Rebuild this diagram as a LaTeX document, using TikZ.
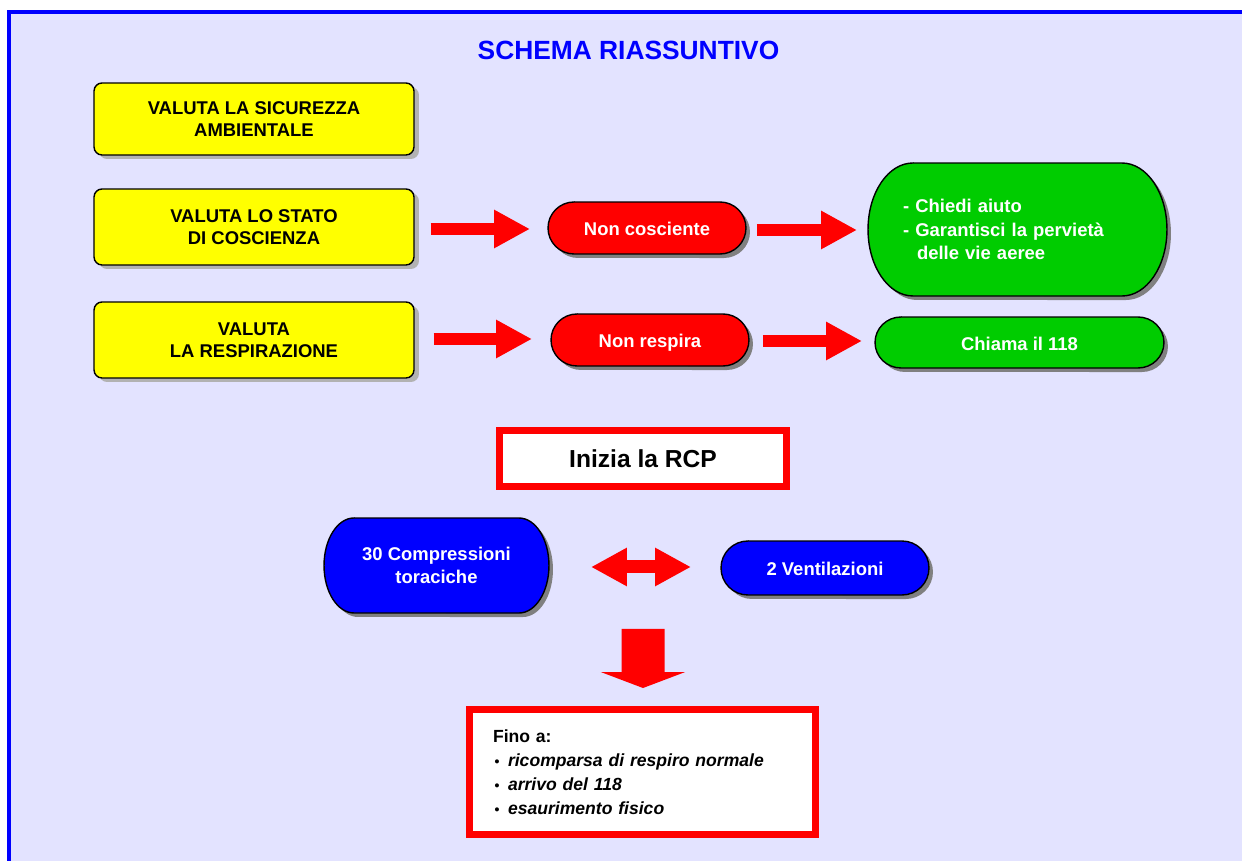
\documentclass[tikz,border=0pt]{standalone}
\usepackage{fontspec}
\setmainfont{Liberation Sans}
\usetikzlibrary{arrows.meta,calc,shadows,backgrounds}

\definecolor{pagelav}{RGB}{227,227,255}
\definecolor{frameblue}{RGB}{0,0,255}
\definecolor{boxyellow}{RGB}{255,255,0}
\definecolor{pillred}{RGB}{255,0,0}
\definecolor{pillgreen}{RGB}{0,204,0}
\definecolor{pillblue}{RGB}{0,0,255}
\definecolor{arrowred}{RGB}{255,0,0}

\tikzset{
  yellowbox/.style={draw=black, line width=0.8pt, fill=boxyellow, rounded corners=0.16cm,
    minimum width=6.4cm, align=center, font=\bfseries\fontsize{10.5}{12.5}\selectfont,
    drop shadow={shadow xshift=0.1cm, shadow yshift=-0.08cm, fill=black!30, opacity=1}},
  pilltext/.style={inner sep=0pt, outer sep=0pt, align=center, text=white,
    font=\bfseries\fontsize{10.5}{13}\selectfont},
  oneline/.style={text height=0.95em, text depth=0.06em},
  pilledge/.style={draw=black, line width=0.8pt},
  pillshadow/.style={fill=black!50},
  redframe/.style={draw=arrowred, line width=0.14cm, fill=white, inner sep=0pt},
  blockarrow/.style={draw=arrowred, line width=0.24cm, -{Triangle[width=0.72cm,length=0.72cm]}},
  twowayarrow/.style={draw=arrowred, line width=0.26cm,
    {Triangle[width=0.72cm,length=0.72cm]}-{Triangle[width=0.72cm,length=0.72cm]}},
  downarrow/.style={draw=arrowred, line width=0.86cm, -{Triangle[width=1.68cm,length=0.32cm]}},
}

% pill behind a node: node, end width (px), half height (px), colour
\newcommand{\pill}[4]{%
  \begin{scope}[on background layer]
    \fill[pillshadow] ($(#1.north west)+(#2+4,-4)$) -- ($(#1.north east)+(-#2+4,-4)$)
      arc[start angle=90,end angle=-90,x radius=#2*0.02cm,y radius=#3*0.02cm]
      -- ($(#1.south west)+(#2+4,-4)$)
      arc[start angle=270,end angle=90,x radius=#2*0.02cm,y radius=#3*0.02cm] -- cycle;
    \filldraw[pilledge, fill=#4] ($(#1.north west)+(#2,0)$) -- ($(#1.north east)+(-#2,0)$)
      arc[start angle=90,end angle=-90,x radius=#2*0.02cm,y radius=#3*0.02cm]
      -- ($(#1.south west)+(#2,0)$)
      arc[start angle=270,end angle=90,x radius=#2*0.02cm,y radius=#3*0.02cm] -- cycle;
  \end{scope}}

% small bullet for the list
\newcommand{\finobullet}{\makebox[0.3cm][l]{\hspace{0.03cm}\fontsize{8}{8}\selectfont\textbullet}}

\begin{document}
\begin{tikzpicture}[x=0.02cm, y=0.02cm]
  \useasboundingbox (0,0) rectangle (1242,-861);

  % page and frame
  \begin{scope}[on background layer]
    \fill[white] (0,0) rectangle (1242,-861);
    \draw[frameblue, line width=0.08cm, fill=pagelav] (9.3,-12) rectangle (1300,-920);
  \end{scope}

  % title
  \node[text=frameblue, font=\bfseries\fontsize{15}{18}\selectfont] (title) at (628.5,-50) {SCHEMA RIASSUNTIVO};

  % yellow boxes
  \node[yellowbox, minimum height=1.44cm] (valuta1) at (254,-119) {VALUTA LA SICUREZZA\\AMBIENTALE};
  \node[yellowbox, minimum height=1.52cm] (valuta2) at (254,-227) {VALUTA LO STATO\\DI COSCIENZA};
  \node[yellowbox, minimum height=1.52cm] (valuta3) at (254,-340) {VALUTA\\LA RESPIRAZIONE};

  % red pills
  \node[pilltext, oneline, minimum width=3.96cm, minimum height=1.04cm] (noncosc) at (647,-228) {Non cosciente};
  \node[pilltext, oneline, minimum width=3.96cm, minimum height=1.04cm] (nonresp) at (650,-340) {Non respira};
  \pill{noncosc}{26}{26}{pillred}
  \pill{nonresp}{26}{26}{pillred}

  % green pills
  \node[pilltext, minimum width=5.98cm, minimum height=2.66cm, text width=4.58cm, align=left,
    font=\bfseries\fontsize{10.5}{13.6}\selectfont] (aiuto) at (1017.5,-229.5)
    {- Chiedi aiuto\\- Garantisci la pervietà\\\hspace*{0.28cm}delle vie aeree};
  \node[pilltext, oneline, minimum width=5.78cm, minimum height=1.02cm] (chiama) at (1019.5,-342.5) {Chiama il 118};
  \pill{aiuto}{45}{66.5}{pillgreen}
  \pill{chiama}{26}{25.5}{pillgreen}

  % arrows first rows
  \draw[blockarrow] ($(valuta2.east)+(16,-2)$) -- ($(noncosc.west |- valuta2.east)+(-18,-2)$);
  \draw[blockarrow] ($(noncosc.east)+(11,-2)$) -- ($(aiuto.west |- noncosc.east)+(-11,-2)$);
  \draw[blockarrow] ($(valuta3.east)+(19,1)$) -- ($(nonresp.west |- valuta3.east)+(-19,1)$);
  \draw[blockarrow] ($(nonresp.east)+(14,-1)$) -- ($(chiama.west |- nonresp.east)+(-13,-1)$);

  % rcp
  \node[redframe, minimum width=5.74cm, minimum height=1.12cm,
    font=\bfseries\fontsize{14}{16}\selectfont] (inizia) at (643,-458.5) {Inizia la RCP};

  % blue pills
  \node[pilltext, minimum width=4.5cm, minimum height=1.9cm] (compr) at (436.5,-565.5) {30 Compressioni\\toraciche};
  \node[pilltext, oneline, minimum width=4.16cm, minimum height=1.08cm] (vent) at (825,-568) {2 Ventilazioni};
  \pill{compr}{30}{47.5}{pillblue}
  \pill{vent}{27}{27}{pillblue}
  \draw[twowayarrow] ($(compr.east)+(42,-1.5)$) -- ($(vent.west |- compr.east)+(-30,-1.5)$);

  % until
  \node[redframe, minimum width=6.92cm, minimum height=2.5cm, text width=5.98cm, align=left,
    font=\bfseries\fontsize{10}{13.6}\selectfont] (fino) at (642.5,-772)
    {Fino a:\\
     \finobullet\textit{ricomparsa di respiro normale}\\
     \finobullet\textit{arrivo del 118}\\
     \finobullet\textit{esaurimento fisico}};
  \coordinate (loopend) at (643,-629);
  \draw[downarrow] (loopend) -- ($(fino.north)+(0.5,18)$);
\end{tikzpicture}
\end{document}
